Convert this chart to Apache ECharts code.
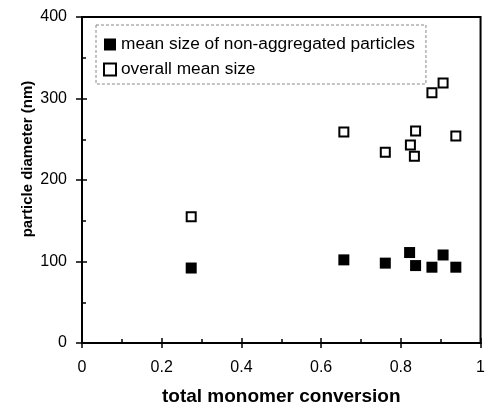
<!DOCTYPE html>
<html>
<head>
<meta charset="utf-8">
<script src="https://cdn.jsdelivr.net/npm/echarts@6/dist/echarts.min.js"></script>
<style>
  html, body { margin: 0; padding: 0; background: #fff; }
  #chart { width: 488px; height: 411px; }
</style>
</head>
<body>
<div id="chart"></div>
<script>
// Particle size vs. total monomer conversion
const seriesNames = ['mean size of non-aggregated particles', 'overall mean size'];

// non-aggregated particles: [conversion, diameter nm]
const conversionNonAgg = [0.274, 0.657, 0.761, 0.822, 0.837, 0.878, 0.906, 0.938];
const diameterNonAgg   = [92, 102, 98, 111, 95, 93, 108, 93];

// overall mean size: [conversion, diameter nm]
const conversionOverall = [0.274, 0.657, 0.761, 0.824, 0.834, 0.837, 0.878, 0.906, 0.938];
const diameterOverall   = [155, 259, 234, 243, 229, 260, 307, 319, 254];

const xTicks = { min: 0, max: 1, interval: 0.2 };
const yTicks = { min: 0, max: 400, interval: 100 };

const pairs = (xs, ys) => xs.map((x, i) => [x, ys[i]]);

const font = 'Liberation Sans, Arial, Helvetica, sans-serif';
const black = '#000';

const chart = echarts.init(document.getElementById('chart'), null, { renderer: 'canvas' });

const baseX = {
  type: 'value', min: xTicks.min, max: xTicks.max, interval: xTicks.interval,
  position: 'bottom', splitLine: { show: false }
};
const baseY = {
  type: 'value', min: yTicks.min, max: yTicks.max, interval: yTicks.interval,
  position: 'left', splitLine: { show: false }
};

chart.setOption({
  animation: false,
  backgroundColor: '#fff',
  grid: {
    left: 82, right: 3, top: 17, bottom: 63,
    show: true, borderColor: black, borderWidth: 2, backgroundColor: 'transparent'
  },
  xAxis: [
    Object.assign({}, baseX, {
      axisLine: { show: true, lineStyle: { color: black, width: 2 } },
      axisTick: { show: true, inside: false, length: 5, lineStyle: { color: black, width: 1.5 } },
      axisLabel: { color: black, fontFamily: font, fontSize: 16, margin: 17 },
      name: 'total monomer conversion',
      nameLocation: 'middle',
      nameGap: 44,
      nameMoveOverlap: false,
      nameTextStyle: { color: black, fontFamily: font, fontSize: 19, fontWeight: 'bold' }
    }),
    Object.assign({}, baseX, {
      axisLine: { show: false },
      axisTick: { show: true, inside: true, length: 5, lineStyle: { color: black, width: 1.5 } },
      minorTick: { show: true, splitNumber: 2, length: 4, lineStyle: { color: black, width: 1.5 } },
      axisLabel: { show: false }
    })
  ],
  yAxis: [
    Object.assign({}, baseY, {
      axisLine: { show: true, lineStyle: { color: black, width: 2 } },
      axisTick: { show: true, inside: false, length: 6, lineStyle: { color: black, width: 1.5 } },
      axisLabel: { color: black, fontFamily: font, fontSize: 16, margin: 15 },
      name: 'particle diameter (nm)',
      nameLocation: 'middle',
      nameGap: 47,
      nameMoveOverlap: false,
      nameTextStyle: {
        color: black, fontFamily: font, fontSize: 15, fontWeight: 'bold',
        padding: [0, 0, 0, 42]
      }
    }),
    Object.assign({}, baseY, {
      axisLine: { show: false },
      axisTick: { show: true, inside: true, length: 5, lineStyle: { color: black, width: 1.5 } },
      minorTick: { show: true, splitNumber: 2, length: 4, lineStyle: { color: black, width: 1.5 } },
      axisLabel: { show: false }
    })
  ],
  legend: {
    orient: 'vertical',
    left: 96, top: 25,
    padding: [11, 11, 6, 7],
    itemGap: 8,
    itemWidth: 12, itemHeight: 12,
    borderColor: '#888', borderWidth: 1, borderType: [3, 2],
    textStyle: { color: black, fontFamily: font, fontSize: 17.3 },
    data: [
      { name: seriesNames[0], icon: 'rect' },
      { name: seriesNames[1], icon: 'rect' }
    ]
  },
  series: [
    {
      name: seriesNames[0],
      type: 'scatter',
      symbol: 'rect',
      symbolSize: 11,
      itemStyle: { color: black, opacity: 1 },
      data: pairs(conversionNonAgg, diameterNonAgg)
    },
    {
      name: seriesNames[1],
      type: 'scatter',
      symbol: 'rect',
      symbolSize: 9,
      itemStyle: { color: '#fff', borderColor: black, borderWidth: 2, opacity: 1 },
      data: pairs(conversionOverall, diameterOverall)
    }
  ]
});
</script>
</body>
</html>
